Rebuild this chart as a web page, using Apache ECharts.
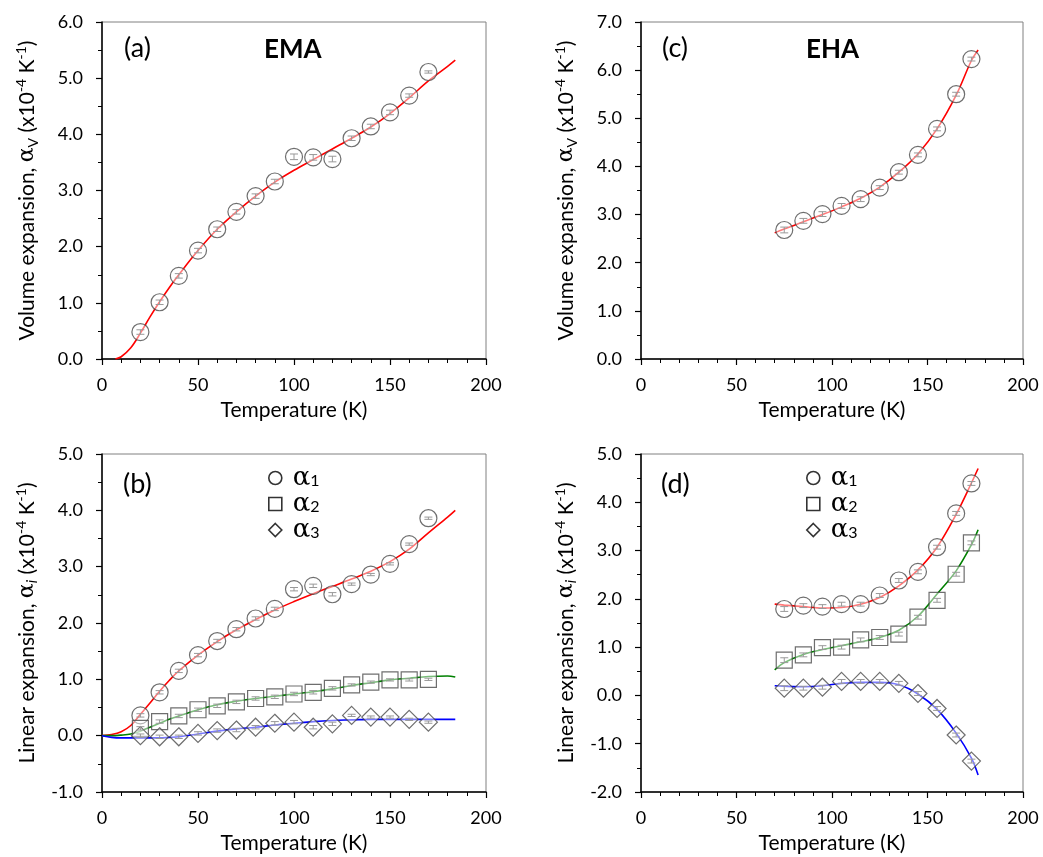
<!DOCTYPE html>
<html>
<head>
<meta charset="utf-8">
<script src="https://cdn.jsdelivr.net/npm/echarts@6/dist/echarts.min.js"></script>
<style>
html,body{margin:0;padding:0;background:#fff;}
#chart{width:1043px;height:857px;}
</style>
</head>
<body>
<div id="chart"></div>
<script>
// ---------- (a) EMA volume expansion ----------
const tA = [20,30,40,50,60,70,80,90,100,110,120,130,140,150,160,170];
const aV = [0.48,1.01,1.48,1.93,2.31,2.62,2.90,3.16,3.60,3.59,3.56,3.93,4.14,4.39,4.69,5.11];
const aVerr = [0.04,0.04,0.04,0.04,0.04,0.04,0.04,0.04,0.05,0.05,0.05,0.04,0.04,0.04,0.03,0.02];
const fitA_T = [7,10,15,20,25,30,35,40,50,60,70,80,90,100,110,120,130,140,150,160,170,180,184];
const fitA_V = [0,0.04,0.20,0.46,0.75,1.02,1.27,1.50,1.93,2.31,2.62,2.90,3.15,3.36,3.55,3.74,3.93,4.13,4.37,4.65,4.95,5.21,5.32];

// ---------- (c) EHA volume expansion ----------
const tC = [75,85,95,105,115,125,135,145,155,165,173];
const cV = [2.68,2.87,3.01,3.18,3.32,3.56,3.88,4.24,4.78,5.50,6.23];
const cVerr = [0.06,0.05,0.05,0.05,0.05,0.04,0.04,0.04,0.04,0.04,0.04];
const fitC_T = [70,75,85,95,105,115,125,135,145,155,165,173,176.5];
const fitC_V = [2.62,2.70,2.85,3.00,3.16,3.34,3.57,3.88,4.26,4.78,5.48,6.20,6.42];

// ---------- (b) EMA linear expansion ----------
const tB = [20,30,40,50,60,70,80,90,100,110,120,130,140,150,160,170];
const b1 = [0.36,0.77,1.15,1.43,1.68,1.89,2.08,2.25,2.60,2.66,2.51,2.69,2.86,3.05,3.40,3.86];
const b2 = [0.13,0.25,0.35,0.46,0.53,0.60,0.66,0.69,0.74,0.77,0.84,0.90,0.95,0.99,0.99,1.00];
const b3 = [0.00,-0.02,-0.02,0.04,0.09,0.10,0.15,0.22,0.24,0.15,0.21,0.36,0.33,0.33,0.29,0.24];
const bErr = [0.03,0.03,0.03,0.03,0.03,0.03,0.03,0.03,0.03,0.03,0.03,0.02,0.02,0.02,0.02,0.02];
const fitB_T = [0,5,10,15,20,25,30,35,40,50,60,70,80,90,100,110,120,130,140,150,160,170,180,184];
const fitB1 = [0,0.02,0.07,0.18,0.38,0.58,0.79,0.98,1.15,1.43,1.67,1.88,2.06,2.23,2.38,2.52,2.65,2.78,2.92,3.09,3.31,3.60,3.88,4.00];
const fitB2 = [0,0.00,0.01,0.03,0.08,0.15,0.22,0.29,0.35,0.46,0.55,0.61,0.66,0.70,0.74,0.78,0.83,0.89,0.94,0.99,1.02,1.05,1.06,1.04];
const fitB3 = [0,-0.03,-0.04,-0.04,-0.04,-0.04,-0.04,-0.03,-0.02,0.03,0.08,0.12,0.15,0.19,0.22,0.25,0.27,0.28,0.29,0.29,0.29,0.29,0.29,0.29];

// ---------- (d) EHA linear expansion ----------
const tD = [75,85,95,105,115,125,135,145,155,165,173];
const d1 = [1.79,1.86,1.84,1.89,1.89,2.07,2.38,2.56,3.07,3.77,4.39];
const d2 = [0.73,0.84,0.99,1.00,1.15,1.20,1.27,1.62,1.97,2.51,3.16];
const d3 = [0.15,0.15,0.17,0.29,0.29,0.29,0.25,0.04,-0.27,-0.82,-1.36];
const dErr = [0.05,0.04,0.04,0.04,0.04,0.04,0.04,0.04,0.04,0.04,0.04];
const fitD_T = [70,75,85,95,105,115,125,135,145,155,165,173,176.5];
const fitD1 = [1.89,1.87,1.84,1.81,1.82,1.89,2.03,2.27,2.60,3.07,3.75,4.40,4.70];
const fitD2 = [0.53,0.68,0.85,0.95,1.03,1.11,1.20,1.35,1.64,2.10,2.58,3.12,3.43];
const fitD3 = [0.20,0.19,0.18,0.20,0.25,0.27,0.27,0.22,0.03,-0.29,-0.78,-1.30,-1.65];

// ---------- axis ranges / ticks ----------
const xTicks = {min:0, max:200, interval:50};
const yRangeA = {min:0, max:6, interval:1};
const yRangeC = {min:0, max:7, interval:1};
const yRangeB = {min:-1, max:5, interval:1};
const yRangeD = {min:-2, max:5, interval:1};

const FONT = 'Lato';
const zip = (xs, ys) => xs.map((x,i)=>[x, ys[i]]);
const zip3 = (xs, ys, es) => xs.map((x,i)=>[x, ys[i], es[i]]);

const chart = echarts.init(document.getElementById('chart'), null, {renderer:'canvas'});

const grids = [
  {left:102, top:22, width:384, height:337},
  {left:641, top:22, width:382, height:337},
  {left:102, top:454, width:384, height:338},
  {left:641, top:454, width:382, height:338}
];

function xAxis(i){
  return {
    type:'value', gridIndex:i, min:xTicks.min, max:xTicks.max, interval:xTicks.interval,
    name:'Temperature (K)', nameLocation:'middle', nameGap:41,
    nameTextStyle:{fontFamily:FONT, fontSize:21, color:'#000'},
    axisLine:{show:true, onZero:false, lineStyle:{color:'#000', width:1.5}},
    axisTick:{show:true, inside:false, length:6, lineStyle:{color:'#000', width:1.2}},
    minorTick:{show:true, splitNumber:5, length:4, lineStyle:{color:'#000', width:1}},
    axisLabel:{fontFamily:FONT, fontSize:18, color:'#000', margin:17},
    splitLine:{show:false}
  };
}
const richName = {
  t:{fontFamily:FONT, fontSize:21, color:'#000', lineHeight:26},
  g:{fontFamily:'DejaVu Serif', fontSize:22, color:'#000', lineHeight:26},
  sub:{fontFamily:FONT, fontSize:14, color:'#000', lineHeight:15, verticalAlign:'bottom'},
  subi:{fontFamily:FONT, fontSize:15, fontStyle:'italic', color:'#000', lineHeight:15, verticalAlign:'bottom'},
  sup:{fontFamily:FONT, fontSize:14, color:'#000', lineHeight:14, verticalAlign:'top'}
};
const volName = '{t|Volume expansion, }{g|α}{sub|V}{t| (x10}{sup|-4}{t| K}{sup|-1}{t|)}';
const linName = '{t|Linear expansion, }{g|α}{subi|i}{t| (x10}{sup|-4}{t| K}{sup|-1}{t|)}';
function yAxis(i, r, name){
  return {
    type:'value', gridIndex:i, min:r.min, max:r.max, interval:r.interval,
    name:name, nameLocation:'middle', nameGap:62, nameRotate:90,
    nameTextStyle:{rich:richName},
    axisLine:{show:true, onZero:false, lineStyle:{color:'#000', width:1.5}},
    axisTick:{show:true, inside:false, length:6, lineStyle:{color:'#000', width:1.2}},
    minorTick:{show:true, splitNumber:2, length:4, lineStyle:{color:'#000', width:1}},
    axisLabel:{fontFamily:FONT, fontSize:18, color:'#000', margin:19, formatter:v=>v.toFixed(1)},
    splitLine:{show:false}
  };
}

const markerStyle = {color:'rgba(255,255,255,0.6)', borderColor:'#4a4a4a', borderWidth:1.2};
function fit(i, xs, ys, color){
  return {type:'line', xAxisIndex:i, yAxisIndex:i, data:zip(xs,ys), smooth:0.35, symbol:'none',
    lineStyle:{color:color, width:1.6}, z:2, silent:true};
}
function pts(i, name, xs, ys, symbol, size){
  return {type:'scatter', name:name, xAxisIndex:i, yAxisIndex:i, data:zip(xs,ys), symbol:symbol,
    symbolSize:size, itemStyle:markerStyle, z:3, silent:true};
}
function errs(i, xs, ys, es){
  return {type:'custom', xAxisIndex:i, yAxisIndex:i, data:zip3(xs,ys,es), z:4, silent:true,
    renderItem:function(params, api){
      const x = api.value(0), y = api.value(1), e = api.value(2);
      const lo = api.coord([x, y-e]), hi = api.coord([x, y+e]);
      const st = {stroke:'#999', lineWidth:1};
      return {type:'group', children:[
        {type:'line', shape:{x1:lo[0], y1:lo[1], x2:hi[0], y2:hi[1]}, style:st},
        {type:'line', shape:{x1:lo[0]-4, y1:lo[1], x2:lo[0]+4, y2:lo[1]}, style:st},
        {type:'line', shape:{x1:hi[0]-4, y1:hi[1], x2:hi[0]+4, y2:hi[1]}, style:st}
      ]};
    }};
}

const legendBase = {
  orient:'vertical', itemWidth:13, itemHeight:13, itemGap:0, padding:0,
  itemStyle:{color:'#fff', borderColor:'#000', borderWidth:1.6},
  formatter:name=>'{g|α}{s|'+name.slice(1)+'}',
  textStyle:{rich:{
    g:{fontFamily:'DejaVu Serif', fontSize:26, color:'#000', lineHeight:22, padding:[0,0,0,6]},
    s:{fontFamily:FONT, fontSize:16, color:'#000', lineHeight:15, verticalAlign:'bottom'}
  }},
  data:[{name:'α1', icon:'circle'},{name:'α2', icon:'rect'},{name:'α3', icon:'diamond'}]
};

const labelStyle = {fontFamily:FONT, fontSize:27, fontWeight:'normal', color:'#000'};
const boldStyle = {fontFamily:FONT, fontSize:26, fontWeight:'bold', color:'#000'};

const option = {
  backgroundColor:'#fff',
  animation:false,
  title:[
    {text:'(a)', left:124, top:35, padding:0, textStyle:labelStyle},
    {text:'EMA', left:264, top:37, padding:0, textStyle:boldStyle},
    {text:'(c)', left:662, top:35, padding:0, textStyle:labelStyle},
    {text:'EHA', left:806, top:37, padding:0, textStyle:boldStyle},
    {text:'(b)', left:123, top:471, padding:0, textStyle:labelStyle},
    {text:'(d)', left:661, top:471, padding:0, textStyle:labelStyle}
  ],
  legend:[
    Object.assign({}, legendBase, {left:268, top:465}),
    Object.assign({}, legendBase, {left:806, top:465})
  ],
  grid:grids.map(g=>Object.assign({show:true, borderColor:'#808080', borderWidth:1, backgroundColor:'transparent'}, g)),
  xAxis:[xAxis(0), xAxis(1), xAxis(2), xAxis(3)],
  yAxis:[yAxis(0,yRangeA,volName), yAxis(1,yRangeC,volName), yAxis(2,yRangeB,linName), yAxis(3,yRangeD,linName)],
  series:[
    fit(0, fitA_T, fitA_V, '#ff0000'),
    pts(0, 'αV-a', tA, aV, 'circle', 17),
    errs(0, tA, aV, aVerr),

    fit(1, fitC_T, fitC_V, '#ff0000'),
    pts(1, 'αV-c', tC, cV, 'circle', 17),
    errs(1, tC, cV, cVerr),

    fit(2, fitB_T, fitB1, '#ff0000'),
    fit(2, fitB_T, fitB2, '#008000'),
    fit(2, fitB_T, fitB3, '#0000ff'),
    pts(2, 'α1', tB, b1, 'circle', 17),
    pts(2, 'α2', tB, b2, 'rect', 16),
    pts(2, 'α3', tB, b3, 'diamond', 18),
    errs(2, tB, b1, bErr),
    errs(2, tB, b2, bErr),
    errs(2, tB, b3, bErr),

    fit(3, fitD_T, fitD1, '#ff0000'),
    fit(3, fitD_T, fitD2, '#008000'),
    fit(3, fitD_T, fitD3, '#0000ff'),
    pts(3, 'α1', tD, d1, 'circle', 17),
    pts(3, 'α2', tD, d2, 'rect', 16),
    pts(3, 'α3', tD, d3, 'diamond', 18),
    errs(3, tD, d1, dErr),
    errs(3, tD, d2, dErr),
    errs(3, tD, d3, dErr)
  ]
};
chart.setOption(option);
</script>
</body>
</html>
